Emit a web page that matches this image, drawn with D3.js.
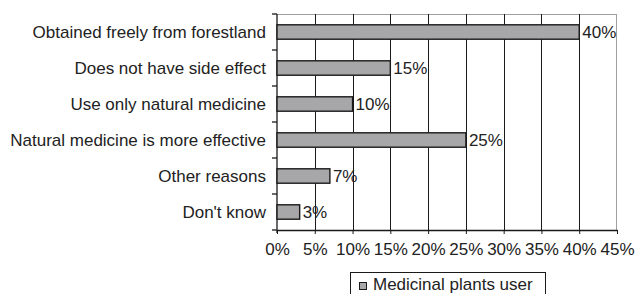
<!DOCTYPE html>
<html>
<head>
<meta charset="utf-8">
<script src="https://cdn.jsdelivr.net/npm/d3@7"></script>
<style>
  body { margin: 0; background: #fff; }
  svg { display: block; font-family: Arial, "Liberation Sans", sans-serif; }
</style>
</head>
<body>
<div id="chart"></div>
<script>
const categories = [
    'Obtained freely from forestland',
    'Does not have side effect',
    'Use only natural medicine',
    'Natural medicine is more effective',
    'Other reasons',
    "Don't know"
]
const values = [40, 15, 10, 25, 7, 3]
const xTicks = [0, 5, 10, 15, 20, 25, 30, 35, 40, 45]
const seriesName = 'Medicinal plants user'

const width = 635, height = 294
const margin = { top: 14, right: 18, bottom: 64, left: 277 }
const textColor = '#222'
const barFill = '#a7a7a9'

const svg = d3.select('#chart').append('svg')
    .attr('width', width).attr('height', height)

const x = d3.scaleLinear()
    .domain([0, 45])
    .range([margin.left, width - margin.right])

const y = d3.scaleBand()
    .domain(categories)
    .range([margin.top, height - margin.bottom])
    .paddingInner(0.6)
    .paddingOuter(0.3)

// Plot border (top + right, grey)
svg.append('line')
    .attr('x1', x(0)).attr('x2', x(45))
    .attr('y1', margin.top + 0.5).attr('y2', margin.top + 0.5)
    .attr('stroke', '#a0a0a0')
svg.append('line')
    .attr('x1', x(45) - 0.5).attr('x2', x(45) - 0.5)
    .attr('y1', margin.top).attr('y2', height - margin.bottom)
    .attr('stroke', '#a0a0a0')

// Vertical grid lines
svg.selectAll('.grid-line')
    .data(xTicks.filter(d => d > 0 && d < 45)).enter()
    .append('line')
    .attr('x1', d => Math.round(x(d)) + 0.5).attr('x2', d => Math.round(x(d)) + 0.5)
    .attr('y1', margin.top).attr('y2', height - margin.bottom)
    .attr('stroke', '#1a1a1a')

// X axis
const xAxis = svg.append('g')
    .attr('transform', `translate(0,${height - margin.bottom})`)
    .call(d3.axisBottom(x).tickValues(xTicks).tickFormat(d => d + '%').tickSize(4).tickSizeOuter(0))
xAxis.select('.domain').attr('stroke', '#1a1a1a').attr('stroke-width', 1.3)
xAxis.selectAll('.tick line').attr('stroke', '#1a1a1a')
xAxis.selectAll('.tick text')
    .attr('fill', textColor).attr('font-size', '17px')
    .attr('y', 13).attr('dy', '0.71em')

// Y axis line + ticks at category boundaries
const step = y.step()
const bounds = categories.map(c => y(c) - step * y.paddingInner() / 2)
bounds.push(y.range()[1])
svg.append('line')
    .attr('x1', x(0)).attr('x2', x(0))
    .attr('y1', margin.top).attr('y2', height - margin.bottom + 3)
    .attr('stroke', '#1a1a1a').attr('stroke-width', 1.3)
svg.selectAll('.y-tick')
    .data(bounds).enter()
    .append('line')
    .attr('x1', x(0) - 5).attr('x2', x(0))
    .attr('y1', d => d).attr('y2', d => d)
    .attr('stroke', '#1a1a1a').attr('stroke-width', 1.3)

// Category labels
svg.selectAll('.y-label')
    .data(categories).enter()
    .append('text')
    .attr('x', x(0) - 11)
    .attr('y', d => y(d) + y.bandwidth() / 2)
    .attr('dy', '0.36em')
    .attr('text-anchor', 'end')
    .attr('fill', textColor)
    .attr('font-size', '17px')
    .text(d => d)

// Bars
svg.selectAll('.bar')
    .data(values).enter()
    .append('rect')
    .attr('x', x(0))
    .attr('y', (d, i) => y(categories[i]))
    .attr('width', d => x(d) - x(0))
    .attr('height', y.bandwidth())
    .attr('fill', barFill)
    .attr('stroke', '#1a1a1a')
    .attr('stroke-width', 1.4)

// Value labels
svg.selectAll('.val')
    .data(values).enter()
    .append('text')
    .attr('x', d => x(d) + 3)
    .attr('y', (d, i) => y(categories[i]) + y.bandwidth() / 2)
    .attr('dy', '0.36em')
    .attr('fill', textColor)
    .attr('font-size', '17px')
    .text(d => d + '%')

// Legend
const legend = svg.append('g').attr('transform', 'translate(350,272)')
legend.append('rect')
    .attr('x', 0.5).attr('y', 0.5)
    .attr('width', 195).attr('height', 40)
    .attr('fill', '#fff').attr('stroke', '#1a1a1a')
legend.append('rect')
    .attr('x', 9.5).attr('y', 10.5)
    .attr('width', 7).attr('height', 7)
    .attr('fill', barFill).attr('stroke', '#1a1a1a')
legend.append('text')
    .attr('x', 23).attr('y', 18)
    .attr('fill', textColor)
    .attr('font-size', '17px')
    .text(seriesName)
</script>
</body>
</html>
